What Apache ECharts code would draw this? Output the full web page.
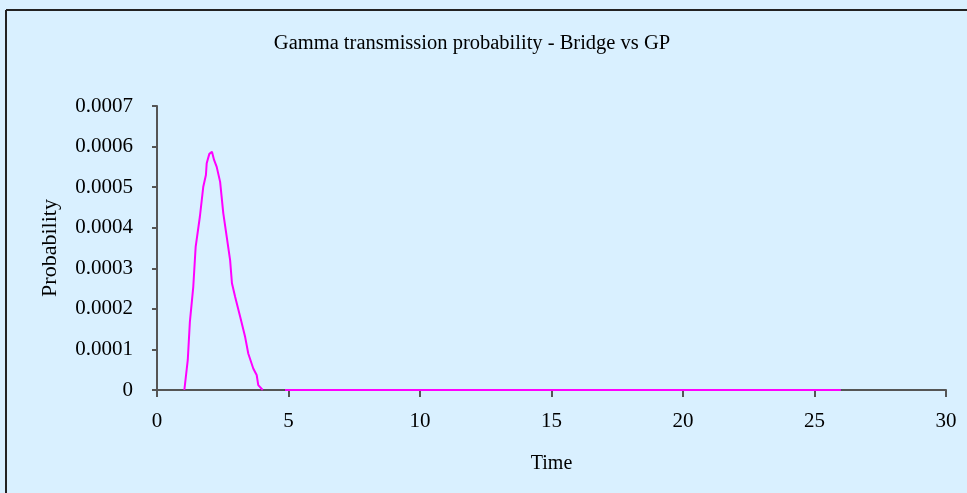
<!DOCTYPE html>
<html>
<head>
<meta charset="utf-8">
<script src="https://cdn.jsdelivr.net/npm/echarts@6/dist/echarts.min.js"></script>
<style>
  html, body { margin: 0; padding: 0; background: #d9f0ff; }
  #chart { width: 967px; height: 493px; }
</style>
</head>
<body>
<div id="chart"></div>
<script>
// time values (peak near t=2)
var times = [1.04, 1.17, 1.25, 1.38, 1.47, 1.63, 1.76, 1.86, 1.89, 1.99, 2.09, 2.17, 2.27, 2.40, 2.52,
             2.65, 2.78, 2.85, 2.97, 3.16, 3.35, 3.47, 3.66, 3.79, 3.85, 4.02];
var probs = [0, 0.000074, 0.000168, 0.000255, 0.000353, 0.000427, 0.000501, 0.00053, 0.000559, 0.000582,
             0.000587, 0.000567, 0.00055, 0.000513, 0.000436, 0.000378, 0.00032, 0.000263, 0.00023,
             0.000181, 0.000131, 0.00009, 0.000053, 0.000037, 0.000012, 0];
// flat tail, after a small gap
var tailTimes = [4.87, 26];
var tailProbs = [0, 0];

var xTicks = [0, 5, 10, 15, 20, 25, 30];
var yTicks = [0, 0.0001, 0.0002, 0.0003, 0.0004, 0.0005, 0.0006, 0.0007];

var lineData = [];
for (var i = 0; i < times.length; i++) {
	lineData.push([times[i], probs[i]]);
}
lineData.push([null, null]); // gap
for (var j = 0; j < tailTimes.length; j++) {
	lineData.push([tailTimes[j], tailProbs[j]]);
}

var font = 'Liberation Serif';
var myChart = echarts.init(document.getElementById('chart'));

myChart.setOption({
	backgroundColor: '#d9f0ff',
	animation: false,
	title: {
		text: 'Gamma transmission probability - Bridge vs GP',
		left: 467,
		top: 28,
		textAlign: 'center',
		textStyle: { fontFamily: font, fontSize: 20.5, fontWeight: 'normal', color: '#000' }
	},
	grid: { left: 157, right: 21, top: 106, bottom: 103 },
	xAxis: {
		type: 'value',
		min: xTicks[0],
		max: xTicks[xTicks.length - 1],
		interval: 5,
		name: 'Time',
		nameLocation: 'middle',
		nameGap: 64,
		nameTextStyle: { fontFamily: font, fontSize: 20, color: '#000' },
		axisLine: { lineStyle: { color: '#555', width: 2 } },
		axisTick: { length: 7, lineStyle: { color: '#555', width: 2 } },
		axisLabel: { fontFamily: font, fontSize: 21, color: '#000', margin: 21 },
		splitLine: { show: false }
	},
	yAxis: {
		type: 'value',
		min: yTicks[0],
		max: yTicks[yTicks.length - 1],
		interval: 0.0001,
		name: 'Probability',
		nameLocation: 'middle',
		nameGap: 96,
		nameTextStyle: { fontFamily: font, fontSize: 22, color: '#000' },
		axisLine: { show: true, lineStyle: { color: '#555', width: 2 } },
		axisTick: { show: true, length: 5, lineStyle: { color: '#555', width: 2 } },
		axisLabel: {
			fontFamily: font, fontSize: 21, color: '#000', margin: 24,
			formatter: function (v) { return v === 0 ? '0' : v.toFixed(4); }
		},
		splitLine: { show: false }
	},
	graphic: [
		{ type: 'line', shape: { x1: 6, y1: 10, x2: 967, y2: 10 }, style: { stroke: '#222', lineWidth: 2 } },
		{ type: 'line', shape: { x1: 6, y1: 10, x2: 6, y2: 493 }, style: { stroke: '#222', lineWidth: 2 } }
	],
	series: [{
		name: 'Probability',
		type: 'line',
		data: lineData,
		connectNulls: false,
		showSymbol: false,
		smooth: false,
		lineStyle: { color: '#ff00ff', width: 2 },
		itemStyle: { color: '#ff00ff' }
	}]
});
</script>
</body>
</html>
